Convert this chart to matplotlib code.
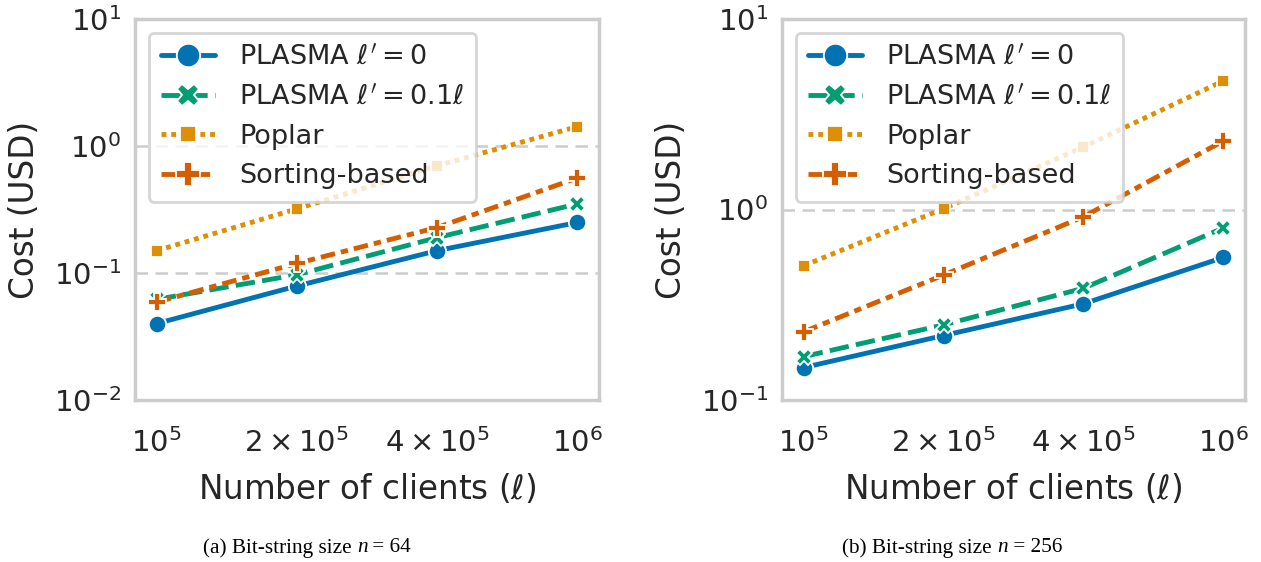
import matplotlib
matplotlib.use("Agg")
import matplotlib.pyplot as plt
import seaborn as sns
from matplotlib.ticker import NullFormatter, LogLocator, FixedLocator

sns.set_theme(style="whitegrid")
plt.rcParams['font.family'] = ['DejaVu Sans']

# ---- data ----
x_labels = [r"$10^{5}$", r"$2\times10^{5}$", r"$4\times10^{5}$", r"$10^{6}$"]
clients = [1e5, 2e5, 4e5, 1e6]
series_names = [r"PLASMA $\ell'=0$", r"PLASMA $\ell'=0.1\ell$", "Poplar", "Sorting-based"]

plasma0_n64 = [0.040, 0.079, 0.150, 0.250]
plasma01_n64 = [0.062, 0.097, 0.190, 0.350]
poplar_n64 = [0.150, 0.320, 0.700, 1.420]
sorting_n64 = [0.059, 0.119, 0.228, 0.560]

plasma0_n256 = [0.148, 0.218, 0.320, 0.560]
plasma01_n256 = [0.169, 0.248, 0.386, 0.800]
poplar_n256 = [0.507, 1.010, 2.130, 4.730]
sorting_n256 = [0.228, 0.453, 0.916, 2.290]

captions = [("(a) Bit-string size ", "n", " = 64"), ("(b) Bit-string size ", "n", " = 256")]

# ---- style ----
colors = ["#0173b2", "#029e73", "#de8f05", "#d55e00"]
markers = ["o", "X", "s", "P"]
msizes = [12.5, 12, 9, 12.5]
lw = 3.5
dashes = [None, (4, 1.5), (1, 1), (3, 1.25, 1.5, 1.25)]

fig = plt.figure(figsize=(12.61, 5.62), dpi=100)
W, H = 1261, 562
ax1 = fig.add_axes([135 / W, 1 - 400 / H, (599 - 135) / W, (400 - 19) / H])
ax2 = fig.add_axes([782 / W, 1 - 400 / H, (1245 - 782) / W, (400 - 19) / H])

datasets = [
    (ax1, [plasma0_n64, plasma01_n64, poplar_n64, sorting_n64], (0.01, 10)),
    (ax2, [plasma0_n256, plasma01_n256, poplar_n256, sorting_n256], (0.1, 10)),
]

for ax, data, ylim in datasets:
    xs = list(range(len(clients)))
    for i, vals in enumerate(data):
        kw = dict(color=colors[i], marker=markers[i], markersize=msizes[i],
                  markeredgecolor="white", markeredgewidth=1.3, linewidth=lw,
                  label=series_names[i])
        line, = ax.plot(xs, vals, **kw)
        if dashes[i] is not None:
            line.set_dashes(dashes[i])
    ax.set_yscale("log")
    ax.set_ylim(*ylim)
    ax.set_xlim(-0.155, 3.155)
    ax.set_xticks(xs)
    ax.set_xticklabels(x_labels)
    ax.yaxis.set_major_locator(LogLocator(base=10, numticks=10))
    ax.yaxis.set_minor_formatter(NullFormatter())
    ax.yaxis.set_minor_locator(FixedLocator([]))
    ax.grid(False, axis="x")
    ax.grid(True, axis="y", which="major", linestyle=(0, (5, 3)), color="#cccccc", linewidth=1.8)
    for sp in ax.spines.values():
        sp.set_color("#cccccc")
        sp.set_linewidth(2.5)
    ax.tick_params(axis="both", labelsize=21, length=0, colors="#262626")
    ax.tick_params(axis="y", pad=10)
    ax.tick_params(axis="x", pad=20)
    ax.set_xlabel(r"Number of clients ($\ell$)", fontsize=23.5, color="#262626", labelpad=10)
    ax.set_ylabel("Cost (USD)", fontsize=23.5, color="#262626", labelpad=9)
    leg = ax.legend(loc="upper left", fontsize=19.5, markerscale=1.35, framealpha=0.8,
                    edgecolor="#cccccc", handlelength=2.0, handletextpad=0.9,
                    borderaxespad=0.5, labelspacing=0.5, borderpad=0.45)
    leg.get_frame().set_linewidth(2.0)
    for t in leg.get_texts():
        t.set_color("#262626")

# captions with italic n
fig.canvas.draw()
renderer = fig.canvas.get_renderer()
cap_centers = [307, 952]
for (pre, it, post), xc in zip(captions, cap_centers):
    parts = [(pre, "normal"), (it, "italic"), (post, "normal")]
    texts = []
    for s, style in parts:
        t = fig.text(0, 1 - 548 / H, s, fontsize=15.3, family="Liberation Serif",
                     style=style, va="center", ha="left", color="black")
        texts.append(t)
    widths = [t.get_window_extent(renderer).width for t in texts]
    total = sum(widths)
    x = xc - total / 2
    for t, w in zip(texts, widths):
        t.set_x(x / W)
        x += w

fig.savefig("out.png", dpi=100)
